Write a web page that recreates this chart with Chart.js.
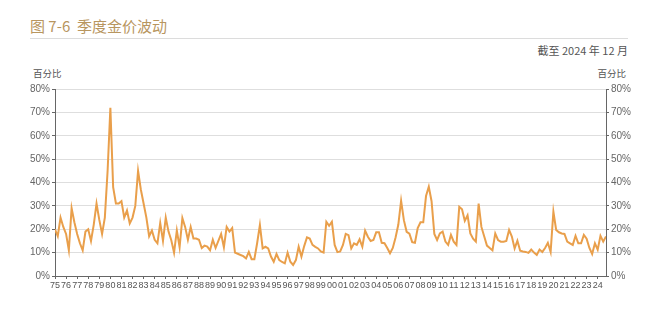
<!DOCTYPE html>
<html>
<head>
<meta charset="utf-8">
<script src="https://cdn.jsdelivr.net/npm/chart.js@4"></script>
<style>
    body { margin: 0; background: #fff; }
    #wrap { position: relative; width: 660px; height: 312px; overflow: hidden; font-family: "Noto Sans CJK SC", "Noto Sans", sans-serif; }
    #chart { position: absolute; left: 0; top: 0; }
    .title { position: absolute; left: 30px; top: 15px; font-size: 15px; color: #b8965f; white-space: nowrap; }
    .rule { position: absolute; left: 30px; top: 38px; width: 598px; height: 1px; background: #dcdcdc; }
    .asof { position: absolute; right: 32px; top: 42px; font-size: 11px; color: #555; }
    .unit { position: absolute; top: 66px; font-size: 9.5px; color: #555; }
</style>
</head>
<body>
<div id="wrap">
    <div class="title">图 7-6&nbsp; 季度金价波动</div>
    <div class="rule"></div>
    <div class="asof">截至 2024 年 12 月</div>
    <div class="unit" style="left:33px">百分比</div>
    <div class="unit" style="right:34px">百分比</div>
    <canvas id="chart" width="660" height="312"></canvas>
</div>
<script>
// year labels, one per 4 quarters (1975 Q1 .. 2024 Q4)
const years = ["75","76","77","78","79","80","81","82","83","84","85","86","87","88","89","90","91","92","93","94","95","96","97","98","99",
               "00","01","02","03","04","05","06","07","08","09","10","11","12","13","14","15","16","17","18","19","20","21","22","23","24"];

// quarterly volatility, %
const volatility = [
    20, 17, 25, 21, 18, 11, 29, 23, 18, 14, 11, 19, 20, 15, 22, 31, 24, 18, 25, 45,
    72, 38, 31, 31, 32, 25, 28, 22.5, 25, 30, 45, 37, 31, 25, 17, 19.5, 15.5, 14, 22.7, 15,
    25, 19, 15.3, 10, 19.5, 12.3, 24.8, 21, 15.5, 21, 16, 16, 15.5, 12, 13, 12.6, 11, 15.5, 12, 15,
    18, 12.3, 21, 19, 20.5, 10, 9.5, 9, 8.5, 7.5, 10.3, 7.2, 7.2, 14, 21.8, 11.8, 12.5, 11.8, 8.3, 6.1,
    9.4, 6.8, 6, 5.4, 10, 6.1, 4.7, 6.8, 12.5, 8.3, 12.8, 16.5, 16, 13.3, 12.5, 11.8, 10.5, 10, 23.2, 21.5,
    23.2, 13.3, 10.2, 10.5, 13.3, 18, 17.5, 11.8, 14, 13.3, 15.7, 12.5, 19.4, 16.8, 15, 15.4, 18.7, 18.7, 14.2, 14,
    12, 9.7, 12, 16.5, 22, 32.2, 23.9, 18.9, 18.1, 14.5, 14.2, 20.5, 23, 23, 34.2, 38.2, 32, 18, 15.4, 18.2,
    19, 14.7, 13.3, 17.6, 14.7, 13.3, 29.6, 28.5, 23.6, 26, 18.2, 16, 14.7, 31, 21, 17, 13, 12, 11, 18.2,
    15.4, 14.7, 14.7, 15, 19.7, 16.9, 11.8, 15.1, 10.8, 10.5, 10.3, 9.9, 11.3, 10, 9, 11.3, 10.3, 12, 14.2, 10.3,
    27.5, 19.7, 18.7, 18.2, 18, 14.7, 14, 13.3, 17.2, 14, 14, 17.6, 16, 12, 9.4, 14, 11.3, 17.2, 14.7, 16.9
];

const yMax = 80;
const yStep = 10;

const tickFont = { family: "'Liberation Sans Narrow', 'Liberation Sans', sans-serif", size: 10 };
const xFont = { family: "'Liberation Sans Narrow', 'Liberation Sans', sans-serif", size: 9 };
const axisColor = "#666";

const yTicks = {
    stepSize: yStep,
    color: "#666",
    font: tickFont,
    padding: 2,
    callback: v => v + "%"
};

new Chart(document.getElementById("chart"), {
    type: "line",
    data: {
        datasets: [{
            data: volatility.map((v, i) => ({ x: i, y: v })),
            borderColor: "#e99f4b",
            borderWidth: 2,
            pointRadius: 0,
            tension: 0
        }]
    },
    options: {
        responsive: false,
        animation: false,
        plugins: { legend: { display: false }, tooltip: { enabled: false } },
        layout: { padding: { top: 89, left: 0, right: 0, bottom: 0 } },
        scales: {
            x: {
                type: "linear",
                min: 0,
                max: volatility.length - 1,
                ticks: {
                    stepSize: 4,
                    includeBounds: false,
                    autoSkip: false,
                    maxRotation: 0,
                    color: "#555",
                    font: xFont,
                    padding: 1,
                    callback: v => (v % 4 === 0 ? years[v / 4] : "")
                },
                grid: { drawOnChartArea: false, tickLength: 3, color: axisColor },
                border: { color: axisColor },
                afterFit: s => { s.height = 36; }
            },
            y: {
                position: "left",
                min: 0,
                max: yMax,
                ticks: yTicks,
                grid: { color: "#dedede", tickColor: axisColor, tickLength: 3 },
                border: { color: axisColor },
                afterFit: s => { s.width = 55; }
            },
            y2: {
                position: "right",
                min: 0,
                max: yMax,
                ticks: yTicks,
                grid: { drawOnChartArea: false, color: axisColor, tickLength: 3 },
                border: { color: axisColor },
                afterFit: s => { s.width = 54; }
            }
        }
    }
});
</script>
</body>
</html>
